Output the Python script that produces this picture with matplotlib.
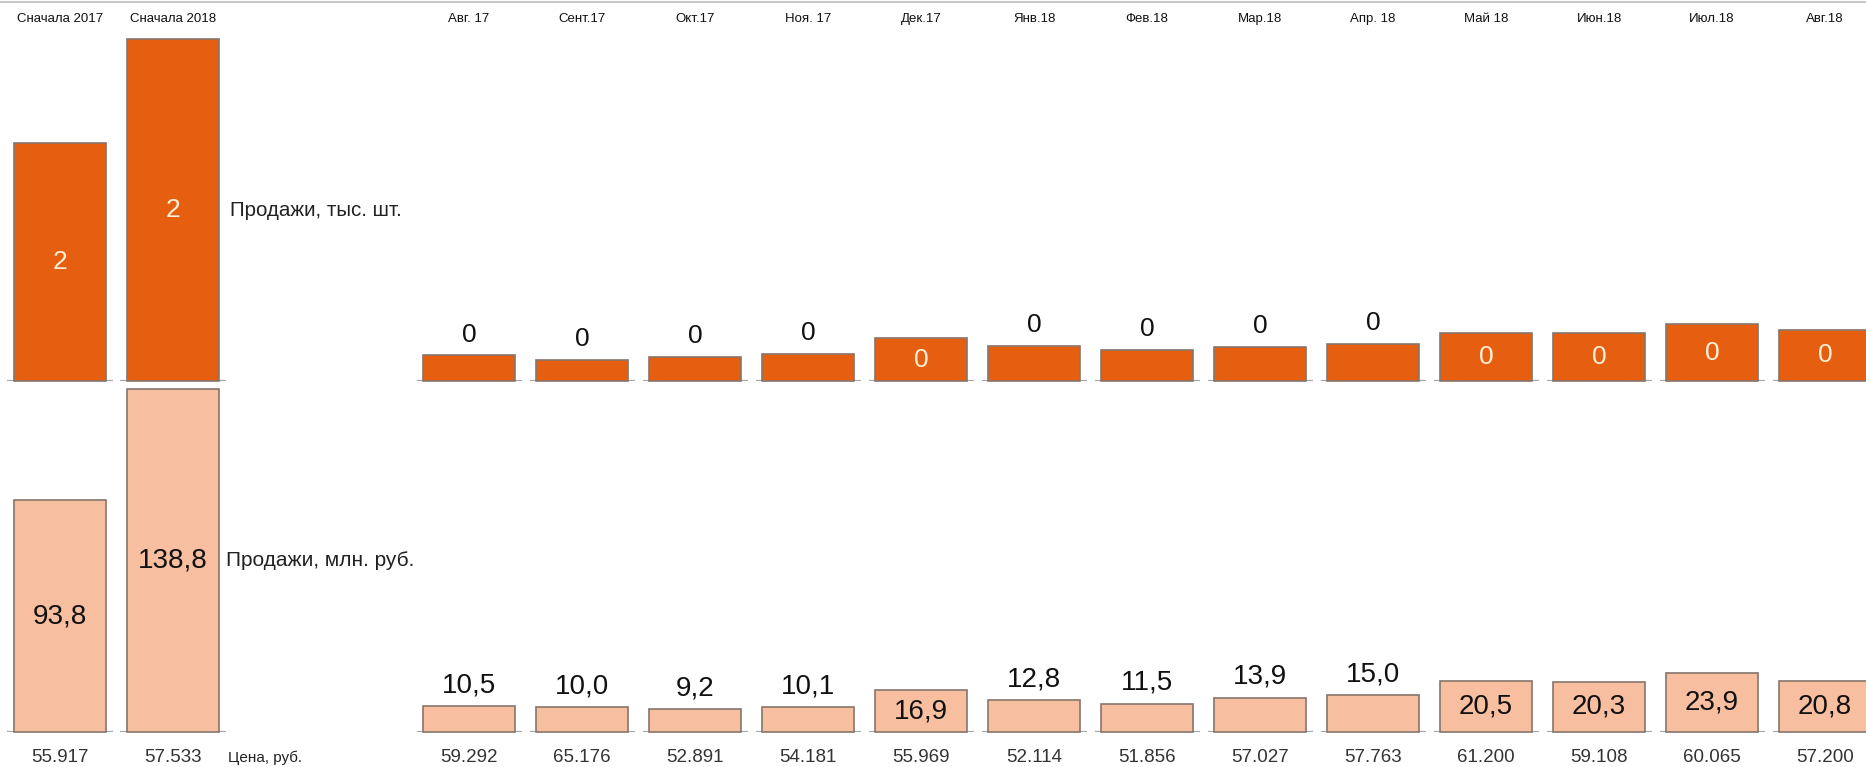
import numpy as np
import matplotlib
matplotlib.use('Agg')
import matplotlib.pyplot as plt
from matplotlib.lines import Line2D

plt.rcParams['font.family'] = ['Liberation Sans', 'DejaVu Sans']

# data
periods = ['Сначала 2017', 'Сначала 2018']
months = ['Авг. 17', 'Сент.17', 'Окт.17', 'Ноя. 17', 'Дек.17', 'Янв.18', 'Фев.18',
          'Мар.18', 'Апр. 18', 'Май 18', 'Июн.18', 'Июл.18', 'Авг.18']

units_periods = [1.68, 2.41]          # тыс. шт.
units_months = [0.18, 0.15, 0.17, 0.19, 0.30, 0.25, 0.22, 0.24, 0.26, 0.34, 0.34, 0.40, 0.36]

rub_periods = [93.8, 138.8]           # млн. руб.
rub_months = [10.5, 10.0, 9.2, 10.1, 16.9, 12.8, 11.5, 13.9, 15.0, 20.5, 20.3, 23.9, 20.8]

price_periods = [55917, 57533]        # руб.
price_months = [59292, 65176, 52891, 54181, 55969, 52114, 51856, 57027, 57763,
                61200, 59108, 60065, 57200]

# style
c_units = '#E65F10'
c_rub = '#F7BEA0'
c_edge = '#86766C'
c_base = '#A4A7AA'
c_inside = '#FFF0D8'

W, H = 1866, 767
fig = plt.figure(figsize=(W / 100, H / 100), dpi=100)

px_units = 141.9   # pixels per thousand units
px_rub = 2.471     # pixels per mln rub

ax_u = fig.add_axes([0, 386 / H, 1, 351 / H])
ax_r = fig.add_axes([0, 35 / H, 1, 350 / H])
ax_u.set_ylim(0, 351 / px_units)
ax_r.set_ylim(0, 350 / px_rub)

xlim = (-60 / 113, (W - 60) / 113)
x_left = np.arange(len(periods))
x_month = 3.62 + np.arange(len(months))
x_all = np.concatenate([x_left, x_month])
bw = 0.82

for ax in (ax_u, ax_r):
    ax.set_xlim(*xlim)
    ax.axis('off')
    for x in x_all:
        ax.plot([x - 0.465, x + 0.465], [0, 0], color=c_base, lw=1.6,
                solid_capstyle='butt', zorder=1)


def fmt_units(v):
    return f"{v:.0f}"


def fmt_rub(v):
    return f"{v:.1f}".replace('.', ',')


def draw_row(ax, vals, color, scale, fmt, in_color, size):
    ax.bar(x_all, vals, width=bw, color=color, edgecolor=c_edge, linewidth=1.2,
           zorder=2, clip_on=False)
    for x, v in zip(x_all, vals):
        # label goes inside the bar only if the bar is tall enough
        if v * scale >= 40:
            ax.text(x, v / 2, fmt(v), ha='center', va='center', fontsize=size,
                    color=in_color, zorder=3)
        else:
            ax.annotate(fmt(v), (x, v), xytext=(0, 15), textcoords='offset points',
                        ha='center', va='center', fontsize=size, color='#111111')


draw_row(ax_u, units_periods + units_months, c_units, px_units, fmt_units, c_inside, 19)
draw_row(ax_r, rub_periods + rub_months, c_rub, px_rub, fmt_rub, '#111111', 20)

# row captions
ax_u.text(x_left[-1] + 0.5, units_periods[-1] / 2, 'Продажи, тыс. шт.',
          ha='left', va='center', fontsize=14.8, color='#222222')
ax_r.text(x_left[-1] + 0.47, rub_periods[-1] / 2, 'Продажи, млн. руб.',
          ha='left', va='center', fontsize=15, color='#222222')

# prices under bars
for x, p in zip(x_all, price_periods + price_months):
    ax_r.annotate(f"{p:,}".replace(',', '.'), (x, 0), xytext=(0, -18.5),
                  textcoords='offset points', ha='center', va='center',
                  fontsize=13.5, color='#333333')
ax_r.annotate('Цена, руб.', (x_left[-1] + 0.49, 0), xytext=(0, -18.5),
              textcoords='offset points', ha='left', va='center',
              fontsize=11, color='#222222')

# column headers along the top
for x, lab in zip(x_all, periods + months):
    ax_u.annotate(lab, (x, 1 - 19 / H), xycoords=('data', 'figure fraction'),
                  ha='center', va='center', fontsize=9.5, color='#111111')

fig.add_artist(Line2D([0, 1], [1 - 1.5 / H, 1 - 1.5 / H], transform=fig.transFigure,
                      color='#C8C8C8', lw=1.5))

fig.savefig('out.png', dpi=100, facecolor='white')
